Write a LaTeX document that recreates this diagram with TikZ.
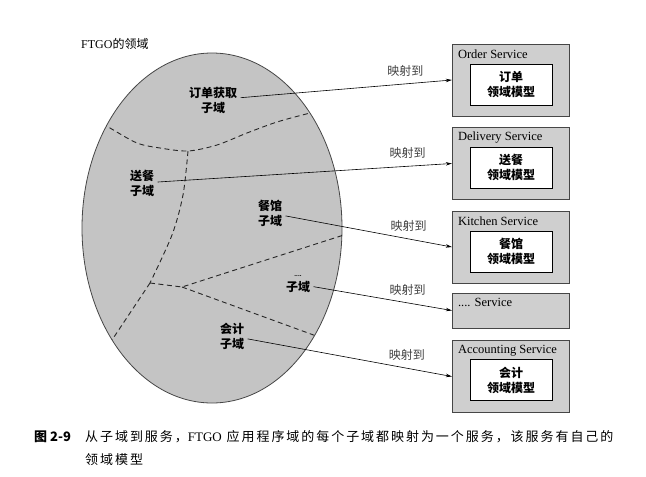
\documentclass[tikz,border=0pt]{standalone}
\usepackage{fontspec}
\setmainfont{Liberation Serif}
\newfontfamily\cjk{Noto Sans CJK SC}
\newfontfamily\capfont[LetterSpace=15]{Noto Sans CJK SC}
\definecolor{EllGray}{RGB}{196,196,196}
\definecolor{BoxGray}{RGB}{207,207,207}
\definecolor{EdgeGray}{RGB}{70,70,70}
\usetikzlibrary{arrows.meta}

\begin{document}
\begin{tikzpicture}[x=1pt, y=-1pt,
  sub/.style={align=center, font=\fontsize{12}{15}\selectfont\cjk\bfseries},
  svc/.style={draw=EdgeGray, fill=BoxGray, minimum width=117pt, minimum height=72pt},
  model/.style={draw, thick, fill=white, minimum width=82pt, minimum height=41pt, align=center, font=\fontsize{12}{15}\selectfont\cjk\bfseries},
  svctitle/.style={anchor=west, inner sep=0pt, font=\fontsize{12.5}{14}\selectfont},
  mapto/.style={-{Stealth[length=6pt,width=3.5pt]}, semithick},
  maplbl/.style={above=4pt, font=\fontsize{12}{14}\selectfont\cjk, text=black!75},
  zone/.style={dash pattern=on 5pt off 3.5pt, line width=0.9pt, black!85},
  caption/.style={anchor=west, inner sep=0pt, font=\fontsize{13}{15}\selectfont\capfont}]
\useasboundingbox (0,0) rectangle (646,477);
\node[anchor=west, inner sep=0pt, font=\fontsize{12}{14}\selectfont] (ftgo) at (81,44) {FTGO{\cjk 的领域}};

\draw[fill=EllGray, draw=EdgeGray, thick] (212,228) ellipse [x radius=130pt, y radius=175pt];
\begin{scope}
\clip (212,228) ellipse [x radius=130pt, y radius=175pt];
\coordinate (ja) at (188,151);
\coordinate (jb) at (150,283);
\coordinate (jc) at (182,287);
\draw[zone] plot[smooth] coordinates {(95,119) (110,128) (137,143) (160,148) (188,151) (217,145) (247,133) (277,122) (310,113) (335,107)};
\draw[zone] plot[smooth] coordinates {(188,151) (183,195) (172,235) (150,283)};
\draw[zone] (jb) -- (100,358);
\draw[zone] (jb) -- (jc) -- (350,233);
\draw[zone] (jc) -- (330,341);
\end{scope}

\node[sub] (ordsub) at (213,100) {订单获取\\子域};
\node[sub] (delsub) at (142,183) {送餐\\子域};
\node[sub] (kitsub) at (270,213) {餐馆\\子域};
\node[sub] (etcsub) at (298,284) {{\tiny....}\\子域};
\node[sub] (accsub) at (232,336) {会计\\子域};

\node[svc] (ordsvc) at (510.5,80) {};
\node[svctitle] (ordttl) at ([xshift=6pt,yshift=-10pt]ordsvc.north west) {Order Service};
\node[model] (ordmod) at (511,84.5) {订单\\领域模型};
\node[svc] (delsvc) at (510.5,163.5) {};
\node[svctitle] (delttl) at ([xshift=6pt,yshift=-10pt]delsvc.north west) {Delivery Service};
\node[model] (delmod) at (511,167.5) {送餐\\领域模型};
\node[svc] (kitsvc) at (510.5,247) {};
\node[svctitle] (kitttl) at ([xshift=6pt,yshift=-10pt]kitsvc.north west) {Kitchen Service};
\node[model] (kitmod) at (511,251.5) {餐馆\\领域模型};
\node[svc, minimum height=35pt] (etcsvc) at (510.5,310.5) {};
\node[svctitle] (etcttl) at ([xshift=6pt,yshift=-10pt]etcsvc.north west) {.... Service};
\node[svc] (accsvc) at (510.5,376.5) {};
\node[svctitle] (accttl) at ([xshift=6pt,yshift=-10pt]accsvc.north west) {Accounting Service};
\node[model] (accmod) at (511,380) {会计\\领域模型};

\draw[mapto] (ordsub) -- (ordsvc.west) node[maplbl, pos=0.78] (ordmap) {映射到};
\draw[mapto] (delsub) -- (delsvc.west) node[maplbl, pos=0.85] (delmap) {映射到};
\draw[mapto] (kitsub) -- (kitsvc.west) node[maplbl, pos=0.74] (kitmap) {映射到};
\draw[mapto] (etcsub) -- (etcsvc.west) node[maplbl, pos=0.68] (etcmap) {映射到};
\draw[mapto] (accsub) -- (accsvc.west) node[maplbl, pos=0.78] (accmap) {映射到};

\node[anchor=west, inner sep=0pt, font=\fontsize{13}{15}\selectfont\cjk\bfseries] (fignum) at (34,437) {图 2-9};
\node[caption] (capa) at (85,437) {从子域到服务，{\rmfamily FTGO} 应用程序域的每个子域都映射为一个服务，该服务有自己的};
\node[caption] (capb) at (85,460) {领域模型};
\end{tikzpicture}
\end{document}
